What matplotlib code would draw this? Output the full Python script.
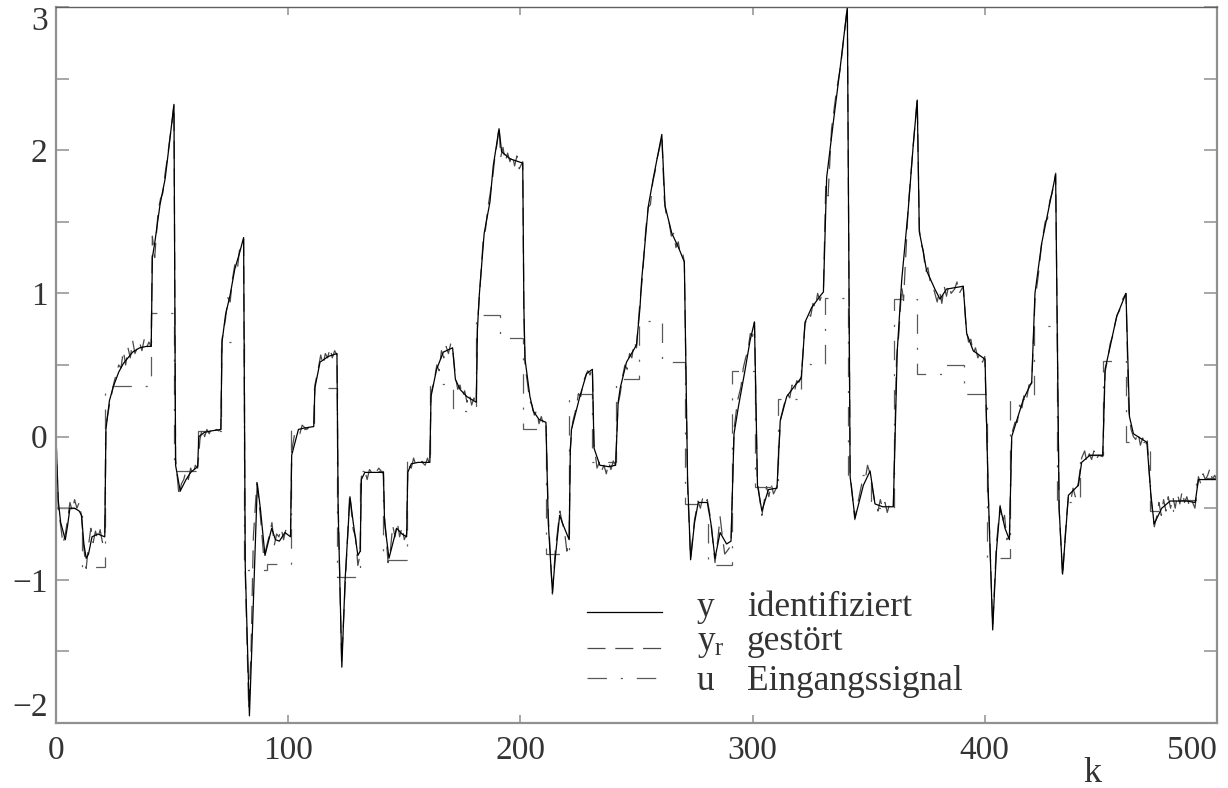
import numpy as np
import matplotlib
matplotlib.use("Agg")
import matplotlib.pyplot as plt

plt.rcParams["lines.scale_dashes"] = False
plt.rcParams["mathtext.fontset"] = "custom"
plt.rcParams["mathtext.rm"] = "Liberation Serif"

# input signal u: constant over blocks of 10 samples
u_edges = [0, 11, 21, 31, 41, 51, 61, 71, 81, 91, 101, 111, 121, 131, 141, 151,
           161, 171, 181, 191, 201, 211, 221, 231, 241, 251, 261, 271, 281, 291,
           301, 311, 321, 331, 341, 351, 361, 371, 381, 391, 401, 411, 421, 431,
           441, 451, 461, 471, 481, 491, 500]
u_vals = [-0.50, -0.91, 0.35, 0.35, 0.86, -0.24, 0.04, 0.66, -0.93, -0.89,
          0.05, 0.34, -0.98, -0.24, -0.86, -0.17, 0.37, 0.18, 0.85, 0.69,
          0.05, -0.82, 0.30, -0.18, 0.40, 0.81, 0.52, -0.47, -0.90, 0.46,
          -0.35, 0.26, 0.51, 0.97, -0.27, -0.50, 0.96, 0.44, 0.50, 0.30,
          -0.85, 0.26, 0.77, -0.46, -0.13, 0.53, -0.04, -0.52, -0.44, -0.29]

# identified output y
y_k = [0, 1, 2, 4, 5, 6, 8, 10, 11, 12, 13, 14, 15.5, 18, 21,
       21.5, 23, 24.7, 27, 29, 31, 33, 36, 39, 41,
       41.5, 42.5, 44.8, 47, 49, 50.8, 51.5, 53.5, 56, 58, 61,
       61.5, 64, 67, 71, 71.5, 73, 75, 77, 79, 80.8,
       81.5, 83.3, 84.5, 86.7, 88, 90, 92.9, 94.5, 96.2, 98.6, 101,
       101.5, 104.4, 107, 111, 111.5, 113.7, 117.3, 121,
       121.5, 123.1, 124.5, 126.6, 128, 130, 131, 131.5, 133, 136, 141,
       141.5, 143.4, 146.7, 149, 151, 151.5, 153, 156, 161,
       161.5, 163.9, 166.8, 170.8, 172, 174, 176.9, 181,
       181.5, 182.3, 184.4, 186.9, 188.3, 190.8, 191.9, 195.5, 201,
       201.5, 202, 204.1, 205.5, 208, 211, 212, 213.8, 215, 216.9, 218.5, 221,
       221.5, 222, 225.6, 228.5, 231, 231.7, 234.2, 238, 241,
       242.1, 243, 245.7, 250, 251.5, 252.2, 255.1, 257.3, 260.9,
       262.3, 265.2, 268.1, 270.6, 272, 273.3, 275, 276.6, 280.5,
       282, 283.8, 286, 288.8, 290.7, 292, 293.9, 296.7, 298.9, 300.8,
       302.1, 304, 306.8, 310.5, 311.9, 314.7, 318.4, 321,
       322.6, 325.4, 329, 330.5, 331.9, 334.8, 337.6, 340.8,
       342, 344.1, 347.7, 350.6, 352.7, 356, 360.6,
       362.3, 364.2, 367, 369.2, 370.9, 371.8, 373.5, 374.9, 378.5, 380.7,
       383.5, 387, 390.7, 392.2, 395, 400.1,
       401.5, 403.4, 405, 406.6, 408.7, 410.6, 411.6, 413.7, 416.6, 420.2,
       421.6, 424.5, 428.1, 430.5, 432, 433.5, 436, 440.3,
       441.7, 445.3, 450.8, 451.8, 454, 456.8, 460.8,
       462.3, 464, 469.8, 471.5, 472.9, 476.2, 479.8, 487, 490.6,
       492, 495.6, 500]
y_v = [0.0, -0.45, -0.60, -0.72, -0.62, -0.50, -0.50, -0.52, -0.55, -0.75, -0.85, -0.82, -0.70, -0.68, -0.70,
       0.05, 0.25, 0.35, 0.45, 0.51, 0.55, 0.59, 0.62, 0.63, 0.63,
       1.25, 1.35, 1.62, 1.80, 2.07, 2.32, -0.20, -0.38, -0.30, -0.25, -0.21,
       0.00, 0.03, 0.04, 0.05, 0.66, 0.85, 0.99, 1.17, 1.28, 1.39,
       -0.90, -1.95, -1.40, -0.33, -0.50, -0.83, -0.64, -0.72, -0.73, -0.67, -0.70,
       -0.13, 0.05, 0.06, 0.07, 0.34, 0.52, 0.56, 0.58,
       -0.50, -1.61, -1.00, -0.42, -0.60, -0.83, -0.80, -0.30, -0.25, -0.25, -0.25,
       -0.60, -0.85, -0.64, -0.68, -0.70, -0.25, -0.19, -0.18, -0.18,
       0.28, 0.47, 0.59, 0.62, 0.40, 0.33, 0.28, 0.24,
       0.75, 0.99, 1.42, 1.64, 1.89, 2.15, 1.99, 1.94, 1.91,
       0.90, 0.54, 0.28, 0.18, 0.12, 0.10, -0.60, -1.09, -0.85, -0.55, -0.62, -0.72,
       -0.10, 0.05, 0.28, 0.44, 0.47, -0.08, -0.20, -0.21, -0.20,
       0.24, 0.34, 0.52, 0.64, 0.90, 1.09, 1.61, 1.81, 2.11,
       1.61, 1.42, 1.32, 1.22, -0.30, -0.86, -0.60, -0.46, -0.46,
       -0.60, -0.85, -0.67, -0.75, -0.73, 0.02, 0.21, 0.46, 0.67, 0.80,
       -0.34, -0.52, -0.37, -0.36, 0.11, 0.28, 0.36, 0.41,
       0.80, 0.90, 0.98, 1.01, 1.81, 2.20, 2.56, 3.00,
       -0.28, -0.57, -0.34, -0.24, -0.47, -0.49, -0.49,
       0.60, 1.09, 1.58, 2.04, 2.35, 1.43, 1.29, 1.16, 1.03, 0.96,
       1.03, 1.04, 1.05, 0.72, 0.60, 0.54,
       -0.40, -1.35, -0.80, -0.49, -0.64, -0.72, 0.00, 0.11, 0.26, 0.38,
       1.00, 1.35, 1.64, 1.83, -0.50, -0.96, -0.41, -0.34,
       -0.18, -0.13, -0.13, 0.47, 0.63, 0.84, 1.00,
       0.14, 0.02, -0.04, -0.40, -0.61, -0.50, -0.45, -0.45, -0.46,
       -0.30, -0.30, -0.30]

# disturbed output y_r
yr_k = [0, 1, 2, 3, 4, 5, 6, 7, 8, 9, 10, 11,
        12, 13, 14, 15, 16, 17, 18, 19, 20, 21,
        21.5, 23, 25, 27, 28, 29, 30, 31, 32, 33, 34, 35, 36, 37, 38, 39, 40, 41,
        41.5, 42.5, 44, 45, 46, 47, 48, 49, 50, 50.8,
        51.5, 53, 54, 55, 56, 57, 58, 59, 60, 61,
        62, 63, 64, 65, 66, 67, 68, 69, 70, 71,
        71.5, 73, 74, 75, 76, 77, 78, 79, 80, 80.8,
        81.5, 83, 84, 85, 86.5, 88, 89.5, 90.5,
        92, 93, 94, 95, 96, 97, 98, 99, 100, 101,
        101.5, 103, 105, 106, 108, 110, 111,
        111.5, 113, 114, 115, 116, 117, 118, 119, 120, 121,
        121.5, 123, 124.5, 126.5, 128, 129, 130, 131,
        131.5, 133, 134, 135, 137, 139, 141,
        141.5, 143, 144, 145, 146, 147, 148, 149, 150, 151,
        151.5, 153, 154, 155, 157, 159, 160, 161,
        161.5, 163, 164, 165, 166, 167, 168, 169, 170, 170.8,
        172, 173, 174, 175, 176, 177, 178, 179, 180, 181,
        181.5, 182.5, 184, 185, 186, 187, 188, 189, 190, 190.8,
        191.5, 192.5, 193.5, 194.5, 195.5, 196.5, 197.5, 198.5, 199.5, 201,
        201.5, 202, 203, 204, 205, 206, 207, 208, 209, 210, 211,
        212, 213.8, 215, 217, 218, 219, 220, 221,
        221.5, 222.5, 224, 225, 226, 227, 228, 229, 230, 231,
        231.7, 233, 234, 235, 236, 237, 238, 239, 240, 241,
        242, 243, 244, 245, 246, 247, 248, 249, 250,
        251.5, 252.5, 254, 255, 256, 257, 258, 259, 260, 260.9,
        262, 263, 264, 265, 266, 267, 268, 269, 270, 270.6,
        272, 273.3, 275, 276.5, 277.5, 278.5, 279.5, 280.5,
        282, 283.8, 285, 286, 287, 288, 289, 290.7,
        292, 293.5, 295, 296, 297, 298, 299, 300, 300.8,
        302, 304, 305, 306, 307, 308, 309, 310.5,
        312, 313.5, 315, 316, 317, 318, 319, 320, 321,
        322.5, 324, 325, 326, 327, 328, 329, 330.5,
        331.5, 332.5, 334, 336, 338, 340.8,
        342, 344, 345.5, 347, 348.5, 349.5, 350.6,
        352.5, 354, 355, 356, 357, 358, 359, 360.6,
        362, 363, 364.2, 365, 367, 369, 370.9,
        371.8, 372.5, 373.5, 374.5, 375.5, 376.5, 377.5, 378.5, 379.5, 380.5,
        381.5, 382.5, 383.5, 384.5, 385.5, 387, 388, 389, 390.7,
        392, 393, 394, 395, 396, 397, 398, 399, 400,
        401.5, 403.4, 405, 406.6, 407.5, 408.5, 409.5, 410.6,
        411.6, 413, 414, 415, 416, 417, 418, 419, 420.2,
        421.6, 423, 424.5, 426, 427, 428, 429, 430.5,
        432, 433.5, 435, 436, 437, 438, 439, 440.3,
        441.7, 443, 444, 445, 446, 447, 448, 449, 450.8,
        451.8, 453, 454, 455, 456, 457, 458, 459, 460.8,
        462, 463, 464, 465, 466, 467, 468, 469, 470,
        471.5, 473, 474, 475, 476, 477, 478, 479, 480,
        481, 482, 483, 484, 485, 486, 487, 488, 489, 490.5,
        492, 493, 494, 495, 496, 497, 498, 499, 500]
yr_v = [0.0, -0.50, -0.62, -0.75, -0.68, -0.58, -0.46, -0.52, -0.44, -0.50, -0.46, -0.56,
        -0.78, -0.92, -0.76, -0.64, -0.74, -0.66, -0.72, -0.65, -0.74, -0.72,
        0.08, 0.22, 0.38, 0.50, 0.48, 0.60, 0.50, 0.62, 0.55, 0.67, 0.58, 0.62, 0.66, 0.60, 0.68, 0.62, 0.66, 0.63,
        1.40, 1.25, 1.58, 1.66, 1.70, 1.84, 1.95, 2.08, 2.20, 2.32,
        -0.15, -0.42, -0.33, -0.30, -0.24, -0.30, -0.22, -0.27, -0.20, -0.22,
        -0.02, 0.06, 0.00, 0.05, 0.02, 0.06, 0.03, 0.05, 0.04, 0.05,
        0.68, 0.82, 0.97, 0.94, 1.10, 1.20, 1.15, 1.30, 1.32, 1.38,
        -0.95, -1.90, -1.50, -0.70, -0.32, -0.55, -0.85, -0.78,
        -0.68, -0.60, -0.76, -0.68, -0.70, -0.64, -0.72, -0.65, -0.66, -0.70,
        -0.10, 0.04, 0.02, 0.08, 0.05, 0.08, 0.07,
        0.36, 0.48, 0.57, 0.50, 0.58, 0.55, 0.62, 0.55, 0.60, 0.57,
        -0.45, -1.58, -1.05, -0.40, -0.65, -0.70, -0.90, -0.82,
        -0.28, -0.24, -0.30, -0.23, -0.27, -0.22, -0.26,
        -0.55, -0.88, -0.80, -0.62, -0.70, -0.60, -0.70, -0.63, -0.72, -0.68,
        -0.20, -0.22, -0.15, -0.20, -0.17, -0.20, -0.15, -0.20,
        0.30, 0.40, 0.50, 0.46, 0.60, 0.55, 0.63, 0.58, 0.65, 0.62,
        0.42, 0.33, 0.36, 0.28, 0.32, 0.24, 0.30, 0.22, 0.27, 0.23,
        0.78, 1.02, 1.38, 1.45, 1.60, 1.70, 1.80, 1.95, 2.05, 2.17,
        1.95, 2.02, 1.92, 1.98, 1.92, 1.97, 1.89, 1.96, 1.87, 1.92,
        0.85, 0.50, 0.38, 0.25, 0.22, 0.15, 0.18, 0.09, 0.14, 0.08, 0.10,
        -0.55, -1.10, -0.80, -0.52, -0.60, -0.66, -0.80, -0.72,
        -0.08, 0.10, 0.20, 0.30, 0.28, 0.38, 0.42, 0.46, 0.43, 0.48,
        -0.05, -0.22, -0.18, -0.24, -0.20, -0.26, -0.18, -0.23, -0.17, -0.21,
        0.22, 0.30, 0.42, 0.50, 0.47, 0.58, 0.55, 0.66, 0.62,
        0.95, 1.10, 1.45, 1.60, 1.62, 1.78, 1.85, 1.95, 2.02, 2.10,
        1.65, 1.52, 1.50, 1.40, 1.42, 1.32, 1.36, 1.26, 1.27, 1.22,
        -0.35, -0.85, -0.58, -0.45, -0.50, -0.43, -0.47, -0.44,
        -0.58, -0.88, -0.72, -0.56, -0.70, -0.82, -0.80, -0.76,
        0.05, 0.25, 0.35, 0.48, 0.55, 0.60, 0.72, 0.70, 0.80,
        -0.30, -0.55, -0.45, -0.35, -0.42, -0.33, -0.40, -0.35,
        0.12, 0.22, 0.30, 0.27, 0.36, 0.31, 0.39, 0.38, 0.42,
        0.78, 0.86, 0.84, 0.93, 0.90, 1.00, 0.95, 1.02,
        1.75, 1.68, 2.15, 2.40, 2.60, 3.00,
        -0.25, -0.58, -0.45, -0.33, -0.30, -0.20, -0.26,
        -0.45, -0.52, -0.44, -0.50, -0.46, -0.53, -0.47, -0.50,
        0.55, 0.72, 1.05, 0.95, 1.60, 2.00, 2.36,
        1.45, 1.35, 1.30, 1.15, 1.18, 1.08, 1.06, 1.00, 0.94, 1.02,
        0.93, 1.05, 0.98, 1.06, 1.00, 1.03, 1.08, 1.00, 1.05,
        0.75, 0.66, 0.68, 0.58, 0.62, 0.55, 0.58, 0.52, 0.56,
        -0.40, -1.32, -0.75, -0.48, -0.60, -0.55, -0.72, -0.70,
        0.02, 0.10, 0.10, 0.22, 0.20, 0.30, 0.26, 0.36, 0.37,
        0.95, 1.12, 1.35, 1.50, 1.52, 1.65, 1.70, 1.84,
        -0.50, -0.98, -0.60, -0.42, -0.45, -0.36, -0.42, -0.32,
        -0.15, -0.10, -0.18, -0.12, -0.16, -0.10, -0.16, -0.13, -0.14,
        0.45, 0.55, 0.65, 0.70, 0.78, 0.85, 0.88, 0.95, 1.00,
        0.18, 0.05, 0.00, -0.02, 0.03, -0.06, -0.01, -0.07, -0.03,
        -0.42, -0.63, -0.56, -0.46, -0.55, -0.44, -0.52, -0.42, -0.50,
        -0.42, -0.50, -0.40, -0.47, -0.38, -0.46, -0.42, -0.48, -0.44, -0.50,
        -0.28, -0.33, -0.26, -0.30, -0.27, -0.22, -0.30, -0.27, -0.30]

legend_syms = ["y", r"$\mathregular{y_r}$", "u"]
legend_words = ["identifiziert", "gestört", "Eingangssignal"]

font = "Liberation Serif"
txt_col = "#333333"
axis_col = "#909090"

fig = plt.figure(figsize=(12.28, 7.88), dpi=100)
ax = fig.add_axes([56 / 1228, 1 - 723 / 788, 1161 / 1228, 716 / 788])

u_style = dict(color="#5a5a5a", lw=0.9, dashes=(14, 10, 1.5, 10))
yr_style = dict(color="#4a4a4a", lw=0.9, dashes=(13, 7))
y_style = dict(color="black", lw=0.9)

ax.stairs(u_vals, u_edges, baseline=None, color=u_style["color"], lw=u_style["lw"],
          linestyle=(0, u_style["dashes"]))
ax.plot(yr_k, yr_v, **yr_style)
ax.plot(y_k, y_v, **y_style)

ax.set_xlim(0, 500)
ax.set_ylim(-2, 3)

ax.set_xticks([0, 100, 200, 300, 400, 500])
ax.set_yticks([-2, -1, 0, 1, 2, 3])
ax.set_yticks(np.arange(-1.5, 3, 1.0), minor=True)
ax.tick_params(axis="y", which="both", direction="in", length=9.5, width=1.1,
               color=axis_col, left=True, right=True, pad=6,
               labelsize=24, labelcolor=txt_col)
ax.tick_params(axis="x", which="both", direction="in", length=6, width=1.1,
               color=axis_col, top=True, bottom=True, pad=9,
               labelsize=24, labelcolor=txt_col)
ax.set_yticklabels(["\u22122", "\u22121", "0", "1", "2", "3"])
for lab in ax.get_xticklabels() + ax.get_yticklabels():
    lab.set_fontfamily(font)
ax.get_yticklabels()[-1].set_verticalalignment("top")
ax.get_yticklabels()[0].set_verticalalignment("bottom")
ax.get_xticklabels()[-1].set_horizontalalignment("right")

for side in ["left", "right", "bottom"]:
    ax.spines[side].set_color(axis_col)
    ax.spines[side].set_linewidth(1.6)
ax.spines["top"].set_color("#606060")
ax.spines["top"].set_linewidth(1.0)

ax.set_xlabel("k", fontsize=26, family=font, color=txt_col, va="top")
ax.xaxis.set_label_coords(0.893, -0.048)

# legend, drawn by hand so the symbol and word columns line up
leg_line_y = [0.155, 0.1047, 0.0628]
leg_base_y = [0.1494, 0.102, 0.0461]
leg_styles = [y_style, yr_style, u_style]
for ly, by, st, sym, word in zip(leg_line_y, leg_base_y, leg_styles, legend_syms, legend_words):
    ax.plot([0.457, 0.522], [ly, ly], transform=ax.transAxes, clip_on=False, **st)
    ax.text(0.552, by, sym, transform=ax.transAxes, fontsize=25.5,
            family=font, color=txt_col, va="baseline", ha="left")
    ax.text(0.595, by, word, transform=ax.transAxes, fontsize=25.5,
            family=font, color=txt_col, va="baseline", ha="left")

fig.savefig("out.png", dpi=100, facecolor="white")
